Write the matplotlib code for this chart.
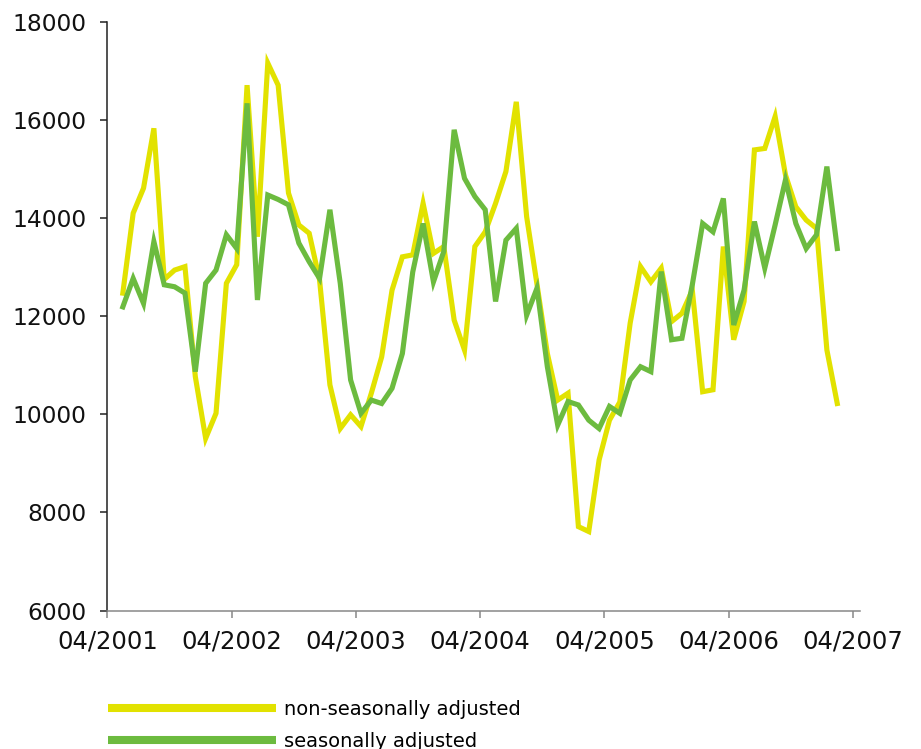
import numpy as np
import matplotlib
matplotlib.use("Agg")
import matplotlib.pyplot as plt
from matplotlib.lines import Line2D

# months since 04/2001 (data points sit mid-month, May 2001 .. Feb 2007)
month_no = np.arange(1, 71)

non_adjusted = [12470, 14100, 14610, 15830, 12750, 12940, 13010, 10770, 9510, 10020,
                12670, 13050, 16710, 13620, 17160, 16710, 14510, 13860, 13690, 12740,
                10600, 9710, 9990, 9750, 10430, 11170, 12530, 13210, 13250, 14300,
                13280, 13420, 11920, 11310, 13420, 13720, 14300, 14950, 16370, 14030,
                12650, 11240, 10290, 10430, 7710, 7610, 9070, 9880, 10250, 11860,
                13010, 12700, 12980, 11890, 12060, 12530, 10460, 10500, 13420, 11520,
                12300, 15390, 15420, 16070, 14880, 14230, 13960, 13790, 11310, 10220]

adjusted = [12190, 12770, 12260, 13520, 12640, 12600, 12470, 10870, 12670, 12940,
            13660, 13380, 16340, 12330, 14470, 14380, 14270, 13490, 13110, 12770,
            14170, 12670, 10700, 10020, 10290, 10220, 10530, 11240, 12900, 13890,
            12700, 13320, 15800, 14810, 14440, 14170, 12300, 13550, 13790, 12020,
            12570, 10970, 9780, 10260, 10190, 9880, 9710, 10160, 10020, 10700,
            10970, 10870, 12910, 11520, 11550, 12640, 13890, 13720, 14400, 11820,
            12530, 13930, 12980, 13860, 14780, 13890, 13380, 13660, 15050, 13380]

tick_labels = ["04/2001", "04/2002", "04/2003", "04/2004", "04/2005", "04/2006", "04/2007"]
series_names = ["non-seasonally adjusted", "seasonally adjusted"]

yellow = "#e2e200"
green = "#6cbb3f"

fig = plt.figure(figsize=(9.21, 7.49), dpi=100)
ax = fig.add_axes([0.1165, 0.1849, 0.8173, 0.7859])

x = month_no + 0.5
ax.plot(x, non_adjusted, color=yellow, lw=3.7, solid_joinstyle="miter", zorder=2)
ax.plot(x, adjusted, color=green, lw=3.7, solid_joinstyle="miter", zorder=3)

ax.set_xlim(0, 72.7)
ax.set_ylim(6000, 18000)
ax.set_xticks(np.arange(0, 73, 12))
ax.set_xticklabels(tick_labels)
ax.set_yticks(np.arange(6000, 18001, 2000))

for s in ["top", "right"]:
    ax.spines[s].set_visible(False)
ax.spines["left"].set_color("#222222")
ax.spines["left"].set_linewidth(1.1)
ax.spines["bottom"].set_color("#888888")
ax.spines["bottom"].set_linewidth(1.1)

ax.tick_params(axis="y", direction="out", length=5, width=1.1, color="#222222",
               pad=10, labelsize=16.8, labelcolor="#111111")
ax.tick_params(axis="x", direction="out", length=5, width=1.1, color="#888888",
               pad=9, labelsize=17.5, labelcolor="#111111")

handles = [Line2D([], [], color=yellow, lw=5.8, solid_capstyle="butt"),
           Line2D([], [], color=green, lw=5.8, solid_capstyle="butt")]
fig.legend(handles, series_names, loc="upper left",
           bbox_to_anchor=(108 / 921, 1 - 700 / 749), frameon=False,
           borderpad=0, borderaxespad=0, handlelength=8.66, handletextpad=0.41,
           labelspacing=0.66, prop={"family": "DejaVu Sans", "size": 14})

fig.savefig("out.png", dpi=100)
